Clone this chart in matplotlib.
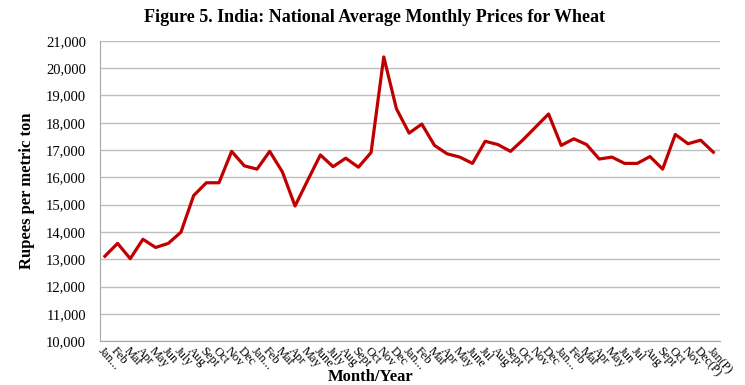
import matplotlib.pyplot as plt
import numpy as np

months = ['Jan...', 'Feb', 'Mar', 'Apr', 'May', 'Jun', 'July', 'Aug', 'Sept', 'Oct', 'Nov', 'Dec',
          'Jan...', 'Feb', 'Mar', 'Apr', 'May', 'June', 'July', 'Aug', 'Sept', 'Oct', 'Nov', 'Dec',
          'Jan...', 'Feb', 'Mar', 'Apr', 'May', 'June', 'Jul', 'Aug', 'Sept', 'Oct', 'Nov', 'Dec',
          'Jan...', 'Feb', 'Mar', 'Apr', 'May', 'Jun', 'Jul', 'Aug', 'Sept', 'Oct', 'Nov', 'Dec(P)',
          'Jan(P)']

prices = [13110, 13580, 13020, 13730, 13430, 13580, 13990, 15330, 15800, 15800, 16950, 16420,
          16300, 16950, 16200, 14950, 15890, 16820, 16390, 16700, 16370, 16910, 20410, 18510,
          17620, 17950, 17170, 16860, 16740, 16510, 17320, 17200, 16950, 17380, 17850, 18320,
          17170, 17410, 17200, 16670, 16740, 16510, 16510, 16760, 16300, 17570, 17230, 17360,
          16920]

serif = ['Liberation Serif', 'DejaVu Serif']

fig = plt.figure(figsize=(7.45, 3.85), dpi=100)
ax = fig.add_axes([0.134, 0.114, 0.832, 0.78])

x = np.arange(len(prices))
ax.plot(x, prices, color='#C00000', linewidth=2.3)

ax.set_ylim(10000, 21000)
ax.set_yticks(np.arange(10000, 21001, 1000))
ax.set_yticklabels([f'{v:,}' for v in range(10000, 21001, 1000)], family=serif, fontsize=10.5)
ax.set_xlim(-0.4, 48.5)
ax.set_xticks(x)
ax.set_xticklabels(months, family=serif, fontsize=9, rotation=-48,
                   ha='left', va='top', rotation_mode='anchor')
ax.tick_params(axis='both', length=0, pad=3)
ax.tick_params(axis='y', pad=10)

ax.grid(axis='y', color='#BFBFBF', linewidth=1)
ax.set_axisbelow(True)
for s in ['top', 'right']:
    ax.spines[s].set_visible(False)
ax.spines['left'].set_color('#A6A6A6')
ax.spines['bottom'].set_color('#A6A6A6')

ax.set_ylabel('Rupees per metric ton', family=serif, fontsize=12, fontweight='bold', labelpad=8)
fig.text(0.497, 0.01, 'Month/Year', family=serif, fontsize=12, fontweight='bold', ha='center')
fig.text(0.503, 0.955, 'Figure 5. India: National Average Monthly Prices for Wheat',
         family=serif, fontsize=13, fontweight='bold', ha='center', va='center')

fig.savefig('out.png', dpi=100)
